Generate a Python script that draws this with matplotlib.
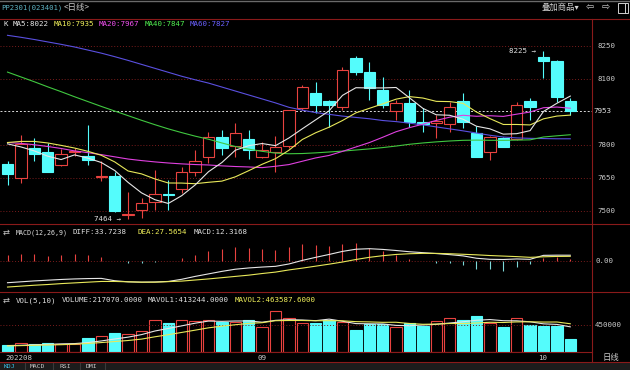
import numpy as np
import matplotlib
matplotlib.use("Agg")
import matplotlib.pyplot as plt
from matplotlib.patches import Rectangle
from matplotlib.lines import Line2D
import matplotlib.transforms as mtransforms

# ---------------- data ----------------
date_labels = ["202208", "09", "10"]
date_label_idx = [0, 19, 40]

opens = [7712, 7648, 7784, 7769, 7709, 7765, 7749, 7652, 7660, 7482,
         7504, 7538, 7577, 7598, 7678, 7746, 7837, 7792, 7825, 7743,
         7769, 7795, 7966, 8034, 8000, 7970, 8193, 8132, 8049, 7951,
         7988, 7905, 7900, 7893, 8000, 7852, 7769, 7830, 7825, 8000,
         8200, 8182, 8000]
highs = [7724, 7845, 7830, 7807, 7780, 7785, 7890, 7724, 7678, 7585,
         7557, 7683, 7640, 7701, 7777, 7860, 7867, 7898, 7867, 7814,
         7840, 7960, 8072, 8087, 8003, 8155, 8203, 8177, 8109, 8003,
         8049, 7966, 7935, 7996, 8034, 7885, 7840, 7837, 7996, 8011,
         8225, 8185, 8011]
lows = [7615, 7625, 7724, 7675, 7705, 7750, 7709, 7633, 7495, 7464,
        7467, 7504, 7504, 7580, 7656, 7716, 7754, 7746, 7734, 7740,
        7674, 7785, 7960, 7943, 7882, 7960, 8117, 8003, 7966, 7913,
        7882, 7860, 7830, 7860, 7875, 7743, 7731, 7789, 7822, 7913,
        8105, 7996, 7935]
closes = [7666, 7804, 7758, 7678, 7757, 7772, 7731, 7658, 7497, 7486,
          7535, 7575, 7573, 7674, 7728, 7837, 7784, 7852, 7777, 7777,
          7789, 7958, 8061, 7981, 7981, 8140, 8132, 8056, 7981, 7991,
          7905, 7893, 7910, 7970, 7901, 7746, 7834, 7789, 7981, 7970,
          8182, 8019, 7953]
volumes = [115000, 142000, 126000, 148000, 137000, 137000, 224000, 263000, 306000, 290000,
           345000, 520000, 471000, 520000, 509000, 520000, 498000, 498000, 525000, 405000,
           673000, 553000, 471000, 471000, 531000, 498000, 361000, 455000, 455000, 416000,
           471000, 422000, 509000, 562000, 518000, 594000, 480000, 415700, 552000, 437000,
           427000, 433000, 217070]

ma5_head = [7804, 7790, 7772, 7748]
ma10_head = [7810, 7815, 7815, 7808, 7797, 7785, 7770, 7752, 7722]
ma20_head = [7810, 7806, 7800, 7792, 7783, 7772, 7764, 7755, 7745, 7735,
             7728, 7722, 7717, 7713, 7710, 7708, 7704, 7701, 7699]
ma40_head = [8130, 8108, 8086, 8063, 8041, 8018, 7996, 7974, 7953, 7932,
             7911, 7891, 7872, 7855, 7839, 7825, 7808, 7792, 7780, 7770,
             7762, 7759, 7760, 7763, 7767, 7771, 7776, 7781, 7787, 7794,
             7802, 7808, 7813, 7817, 7820, 7821, 7820, 7820, 7821]
ma60 = [8297, 8288, 8278, 8267, 8256, 8244, 8230, 8216, 8200, 8183,
        8165, 8147, 8129, 8111, 8095, 8080, 8062, 8044, 8026, 8008,
        7990, 7970, 7957, 7946, 7938, 7930, 7924, 7918, 7910, 7905,
        7898, 7890, 7881, 7872, 7863, 7853, 7843, 7835, 7831, 7829,
        7828, 7827, 7827]
mavol5_head = [105000, 110000, 118000, 125000]
mavol10_head = [100000, 105000, 110000, 115000, 120000, 128000, 140000, 155000, 172000]

diff = [-119, -114, -109, -105, -101, -98, -96, -95, -108, -114,
        -116, -115, -112, -100, -84, -70, -56, -44, -37, -32,
        -28, -15, 5, 22, 38, 55, 67, 70, 66, 60,
        53, 48, 43, 37, 30, 17, 11, 10, 13, 11,
        33, 34, 33.7238]
dea = [-143, -138, -133, -129, -124, -120, -116, -112, -112, -114,
       -116, -116, -113, -110, -104, -98, -91, -84, -77, -68,
       -60, -48, -38, -27, -16, -4, 10, 22, 31, 38,
       42, 44, 44, 42, 39, 36, 32, 29, 26, 22,
       25, 27, 27.5654]
macd_hist = [37, 41, 41, 29, 35, 39, 37, 26, 2, -11,
             -11, -3, 2, 17, 35, 59, 67, 78, 74, 67,
             63, 79, 96, 91, 85, 96, 100, 76, 57, 35,
             15, 3, -7, -7, -22, -41, -44, -52, -29, -13,
             18, 22, 12.3168]

# values shown in the panel headers
ma_names = ["MA5", "MA10", "MA20", "MA40", "MA60"]
ma_header_values = [8022, 7935, 7967, 7847, 7827]
mavol1_value = 413244.0
mavol2_value = 463587.6

price_ticks = [8250, 8100, 7800, 7650, 7500]
last_price = 7953
high_mark = 8225
low_mark = 7464


def sma(vals, n, head):
    vals = np.asarray(vals, float)
    out = list(head)
    for i in range(len(head), len(vals)):
        out.append(vals[i - n + 1:i + 1].mean())
    return np.array(out)


ma5 = sma(closes, 5, ma5_head)
ma10 = sma(closes, 10, ma10_head)
ma20 = sma(closes, 20, ma20_head)
ma40 = sma(closes, 40, ma40_head)
mavol5 = sma(volumes, 5, mavol5_head)
mavol10 = sma(volumes, 10, mavol10_head)

# ---------------- style ----------------
W, H = 630, 370
BG = "black"
RED = "#e8423f"
CYAN = "#54fcfc"
GRID = "#7a1c1c"
SEP = "#8a1a1a"
TXT = "#c8c8c8"
C_MA5 = "#e6e6e6"
C_MA10 = "#e8e85a"
C_MA20 = "#e040e0"
C_MA40 = "#40c840"
C_MA60 = "#5a50e0"
MONO = ["DejaVu Sans Mono", "Noto Sans CJK SC"]
CJK = ["Noto Sans CJK SC", "DejaVu Sans"]
SYM = ["DejaVu Sans", "Noto Sans CJK SC"]
FS = 5.4

fig = plt.figure(figsize=(W / 100, H / 100), dpi=100, facecolor=BG)


def ax_at(x0, y0, x1, y1):
    a = fig.add_axes([x0 / W, 1 - y1 / H, (x1 - x0) / W, (y1 - y0) / H])
    a.set_facecolor(BG)
    for s in a.spines.values():
        s.set_visible(False)
    a.set_xticks([])
    a.set_yticks([])
    a.set_xlim(-0.56, 43.62)
    return a


def ftext(x, y, s, color=TXT, size=FS, family=MONO, ha="left", va="center"):
    fig.text(x / W, 1 - y / H, s, color=color, fontsize=size, family=family,
             ha=ha, va=va)


def hline_px(y, x0, x1, color=SEP, lw=0.8):
    fig.add_artist(Line2D([x0 / W, x1 / W], [1 - y / H, 1 - y / H],
                          color=color, lw=lw, transform=fig.transFigure))


def vline_px(x, y0, y1, color=SEP, lw=0.8):
    fig.add_artist(Line2D([x / W, x / W], [1 - y0 / H, 1 - y1 / H],
                          color=color, lw=lw, transform=fig.transFigure))


n = len(closes)
xs = np.arange(n)
BW = 0.86

# ---------------- price panel ----------------
axp = ax_at(0, 19, 592, 224)
axp.set_ylim(7439.9, 8371.1)
for t in price_ticks:
    axp.axhline(t, color=GRID, lw=0.7, ls=(0, (1, 2)))
axp.axhline(last_price, color="#d8d8d8", lw=0.7, ls=(0, (2, 2)))

for i in range(n):
    o, h, l, c = opens[i], highs[i], lows[i], closes[i]
    if c > o:
        axp.vlines(i, c, h, color=RED, lw=0.8, zorder=2)
        axp.vlines(i, l, o, color=RED, lw=0.8, zorder=2)
        axp.add_patch(Rectangle((i - BW / 2, o), BW, c - o, facecolor=BG,
                                edgecolor=RED, lw=0.8, zorder=3))
    else:
        axp.vlines(i, l, h, color=CYAN, lw=0.8, zorder=2)
        axp.add_patch(Rectangle((i - BW / 2, c), BW, max(o - c, 1.5),
                                facecolor=CYAN, edgecolor=CYAN, lw=0.8, zorder=3))

for m, col in [(ma60, C_MA60), (ma40, C_MA40), (ma20, C_MA20),
               (ma10, C_MA10), (ma5, C_MA5)]:
    axp.plot(xs, m, color=col, lw=0.8, zorder=4)

ih = int(np.argmax(highs))
il = int(np.argmin(lows))
axp.text(ih - 0.55, high_mark, f"{high_mark} \u2192", color="#e0e0e0", fontsize=FS,
         family=MONO, ha="right", va="center", zorder=5)
axp.text(il - 0.5, low_mark, f"{low_mark} \u2192", color="#e0e0e0", fontsize=FS,
         family=MONO, ha="right", va="center", zorder=5)

tp = mtransforms.blended_transform_factory(fig.transFigure, axp.transData)
for t in price_ticks:
    axp.text(597 / W, t, str(t), color=TXT, fontsize=FS, family=MONO,
             ha="left", va="center", transform=tp, clip_on=False)
axp.text(593 / W, last_price, str(last_price), color="#e0e0e0", fontsize=FS,
         family=MONO, ha="left", va="center", transform=tp, clip_on=False)

# ---------------- MACD panel ----------------
axm = ax_at(0, 224, 592, 292)
axm.set_ylim(-170.6, 207.2)
axm.axhline(0, color=GRID, lw=0.7, ls=(0, (1, 2)))
for i in range(n):
    v = macd_hist[i]
    axm.vlines(i, 0, v, color=RED if v >= 0 else "#7fd8d8", lw=0.8)
axm.plot(xs, diff, color="#e6e6e6", lw=0.8)
axm.plot(xs, dea, color=C_MA10, lw=0.8)
tm = mtransforms.blended_transform_factory(fig.transFigure, axm.transData)
axm.text(596 / W, 0, "0.00", color=TXT, fontsize=FS, family=MONO,
         ha="left", va="center", transform=tm, clip_on=False)

# ---------------- VOL panel ----------------
axv = ax_at(0, 292, 592, 352)
axv.set_ylim(0, 985200)
axv.axhline(450000, color=GRID, lw=0.7, ls=(0, (1, 2)))
for i in range(n):
    v = volumes[i]
    if closes[i] > opens[i]:
        axv.add_patch(Rectangle((i - BW / 2, 0), BW, v, facecolor=BG,
                                edgecolor=RED, lw=0.8))
    else:
        axv.add_patch(Rectangle((i - BW / 2, 0), BW, v, facecolor=CYAN,
                                edgecolor=CYAN, lw=0.8))
axv.plot(xs, mavol5, color="#e6e6e6", lw=0.8)
axv.plot(xs, mavol10, color=C_MA10, lw=0.8)
tv = mtransforms.blended_transform_factory(fig.transFigure, axv.transData)
axv.text(595 / W, 450000, "450000", color=TXT, fontsize=FS, family=MONO,
         ha="left", va="center", transform=tv, clip_on=False)

# ---------------- frame lines ----------------
hline_px(0.5, 0, 630, color="#6a6a6a", lw=1.0)
hline_px(19, 0, 630)
hline_px(224, 0, 630)
hline_px(292, 0, 630)
hline_px(352, 0, 592)
hline_px(362, 0, 630)
vline_px(592, 19, 362)

# bottom tab strip
fig.add_artist(Rectangle((0, 0), 1, 8 / H, facecolor="#1c1c1c", edgecolor="none",
                         transform=fig.transFigure, zorder=0))
for xsep in [25, 53, 80, 105]:
    vline_px(xsep, 363, 370, color="#3a3a3a", lw=0.8)
for x0, s, col in [(4, "KDJ", "#3cc0e8"), (30, "MACD", TXT), (60, "RSI", TXT), (86, "DMI", TXT)]:
    ftext(x0, 366.3, s, color=col, size=4.6)

# ---------------- header texts ----------------
ftext(1, 7.5, "PP2301(023401)", color="#5fb4c4", size=5.2)
ftext(64, 7.5, "<日线>", color="#c8c8c8", size=6.0, family=CJK)
ftext(542, 7.5, "叠加商品▾", color="#d0d0d0", size=6.0, family=CJK)
ftext(586, 7.5, "\u21e6", color="#d0d0d0", size=7, family=SYM)
ftext(602, 7.5, "\u21e8", color="#d0d0d0", size=7, family=SYM)
fig.add_artist(Rectangle((618 / W, 1 - 13 / H), 10 / W, 10 / H, facecolor="none",
                         edgecolor="#d0d0d0", lw=0.7, transform=fig.transFigure))
vline_px(624.5, 3, 13, color="#d0d0d0", lw=0.7)

ftext(3.3, 24, "K", color="#e6e6e6")
ma_text_x = [12.7, 53.3, 99, 145, 190]
ma_text_col = ["#e6e6e6", "#f0f05a", "#f050f0", "#50f050", "#6a60ff"]
for name, val, xp, col in zip(ma_names, ma_header_values, ma_text_x, ma_text_col):
    ftext(xp, 24, f"{name}:{val}", color=col)

ftext(3, 232.3, "\u21c4", color="#c8c8c8", size=6, family=SYM)
ftext(16, 232.3, "MACD(12,26,9)", color="#e0e0e0", size=4.8)
ftext(72.7, 232.3, f"DIFF:{diff[-1]:.4f}", color="#e0e0e0")
ftext(138, 232.3, f"DEA:{dea[-1]:.4f}", color="#f0f05a")
ftext(194, 232.3, f"MACD:{macd_hist[-1]:.4f}", color="#e0e0e0")

ftext(3, 300.3, "\u21c4", color="#c8c8c8", size=6, family=SYM)
ftext(16, 300.3, "VOL(5,10)", color="#e0e0e0")
ftext(61.7, 300.3, f"VOLUME:{volumes[-1]:.4f}", color="#e0e0e0")
ftext(147.7, 300.3, f"MAVOL1:{mavol1_value:.4f}", color="#e0e0e0")
ftext(235, 300.3, f"MAVOL2:{mavol2_value:.4f}", color="#f0f05a")

# date labels
for idx, lab in zip(date_label_idx, date_labels):
    xpx = max(5.0, 7.5 + 13.4 * idx - 5)
    ftext(xpx, 357.5, lab, color=TXT)
ftext(603, 357.5, "日线", color=TXT, size=6.0, family=CJK)

fig.savefig("out.png", dpi=100, facecolor=BG)
